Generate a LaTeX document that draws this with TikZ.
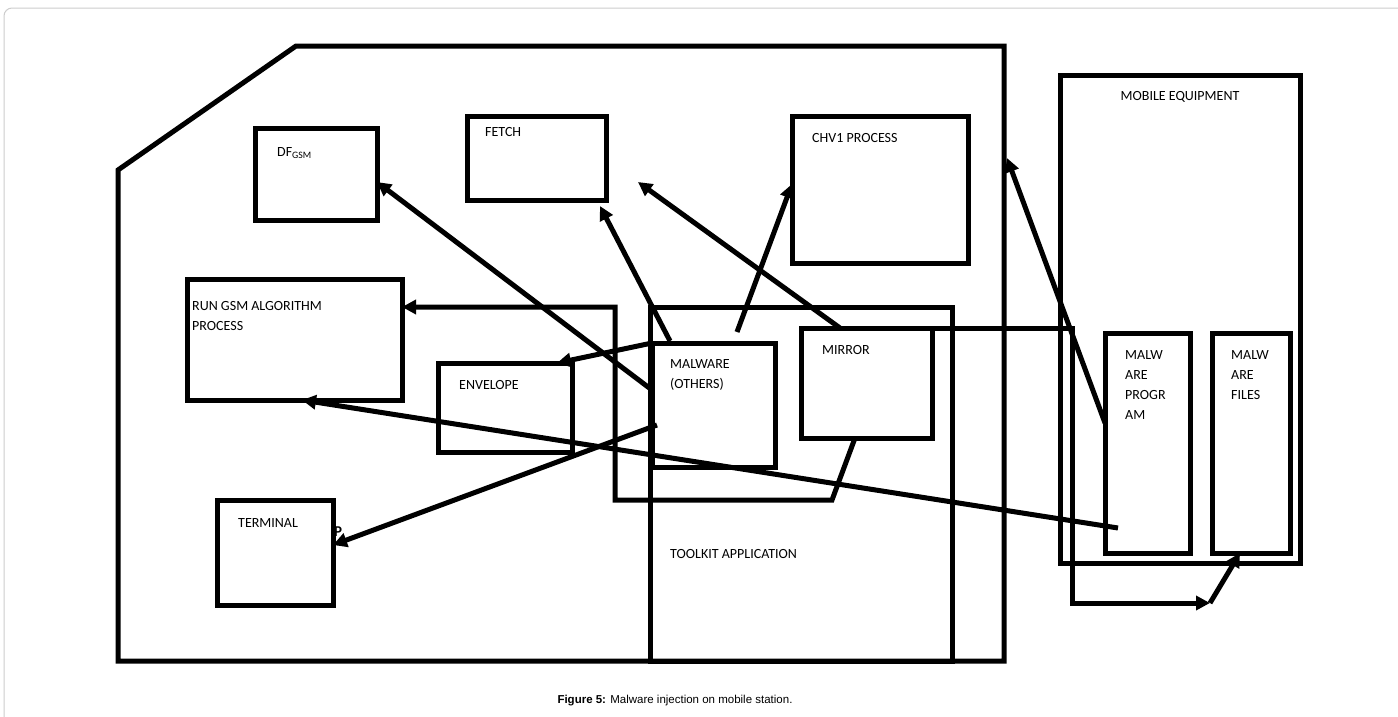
\documentclass[tikz,border=0pt]{standalone}
\usepackage{fontspec}
\setmainfont{Carlito}
\newfontfamily\capfont{Liberation Sans}
\usepackage{tikz}
\usetikzlibrary{positioning,arrows.meta,calc}

\begin{document}
\begin{tikzpicture}[x=1pt,y=-1pt,
    box/.style={draw, line width=5pt, anchor=north west, inner sep=0pt, outer sep=0pt},
    lbl/.style={font=\fontsize{14}{20}\selectfont, anchor=north west, inner sep=0pt, align=left},
    arr/.style={line width=5pt, -{Triangle[length=14pt,width=14pt]}},
    wire/.style={line width=5pt}]
    \useasboundingbox (0,0) rectangle (1398,716);
    \draw[gray!40, line width=1pt, rounded corners=8pt] (4,730) -- (4,8) -- (1410,8);

    % sim card outline
    \draw[wire] (296,46) -- (1004,46) -- (1004,661) -- (118,661) -- (118,170) -- cycle;

    \foreach \n/\x/\y/\w/\h in {dfgsm/255/128/122/92, fetch/467/116/139/84,
                                chv1/792/116/176/147, rungsm/187/279/215/121,
                                envelope/438/363/134/89, toolkit/650/307/302/354,
                                malware/652/343/123/124, mirror/801/328/131/110,
                                terminal/217/500/116/105, mobile/1060/75/240/488,
                                mprog/1105/333/85/220, mfiles/1212/333/78/220}
        \node[box, minimum width=\w pt, minimum height=\h pt] (\n) at (\x,\y) {};

    \node[lbl, font=\bfseries\fontsize{15}{20}\selectfont] (ptxt) at (334,527) {P};

    \node[lbl, below right=19pt and 22pt of dfgsm.north west] (dfgsmtxt) {DF\textsubscript{GSM}};
    \node[lbl, below right=11pt and 18pt of fetch.north west] (fetchtxt) {FETCH};
    \node[lbl, below right=17pt and 20pt of chv1.north west] (chv1txt) {CHV1 PROCESS};
    \node[lbl, below right=22pt and 5pt of rungsm.north west] (rungsmtxt) {RUN GSM ALGORITHM\\PROCESS};
    \node[lbl, below right=17pt and 21pt of envelope.north west] (envelopetxt) {ENVELOPE};
    \node[lbl, below right=16pt and 18pt of malware.north west] (malwaretxt) {MALWARE\\(OTHERS)};
    \node[lbl, below right=17pt and 21pt of mirror.north west] (mirrortxt) {MIRROR};
    \node[lbl, below right=18pt and 21pt of terminal.north west] (terminaltxt) {TERMINAL};
    \node[lbl, below right=242pt and 20pt of toolkit.north west] (toolkittxt) {TOOLKIT APPLICATION};
    \node[lbl, anchor=north, below=16pt of mobile.north] (mobiletxt) {MOBILE EQUIPMENT};
    \node[lbl, below right=17pt and 20pt of mprog.north west] (mprogtxt) {MALW\\ARE\\PROGR\\AM};
    \node[lbl, below right=17pt and 19pt of mfiles.north west] (mfilestxt) {MALW\\ARE\\FILES};

    % connectors
    \coordinate (fetchgap) at (638,182);
    \coordinate (chvstart) at (737,332);
    \coordinate (simedge) at (1007,158);
    \coordinate (bendA) at (832,500);
    \coordinate (bendB) at (615,500);
    \coordinate (mecorner) at (1072,328);
    \coordinate (turn) at (1210,603);

    \draw[arr] ([yshift=-47pt]malware.north west) -- ([yshift=-54pt]dfgsm.north east);
    \draw[arr] ([xshift=18pt,yshift=2pt]malware.north west) -- ([xshift=-6pt,yshift=-6pt]fetch.south east);
    \draw[arr] ([xshift=39pt]mirror.north west) -- (fetchgap);
    \draw[arr] (chvstart) -- ([yshift=-68pt]chv1.north west);
    \draw[arr] ([yshift=-90pt]mprog.north west) -- (simedge);
    \draw[arr] (malware.north west) -- ([xshift=-15pt]envelope.north east);
    \draw[arr] ([xshift=5pt,yshift=-82pt]malware.north west) -- ([yshift=-45pt]terminal.north east);
    \draw[arr] ([xshift=13pt,yshift=25pt]mprog.south west) -- ([xshift=115pt]rungsm.south west);
    \draw[arr] ([xshift=54pt]mirror.south west) -- (bendA) -- (bendB) |- ([yshift=-28pt]rungsm.north east);
    \draw[arr] (mirror.north east) -- (mecorner) |- (turn);
    \draw[arr] (turn) -- ([xshift=28pt]mfiles.south west);

    \node[font=\capfont\fontsize{11.5}{14}\selectfont] (caption) at (675,701)
        {\textbf{Figure 5:} Malware injection on mobile station.};
\end{tikzpicture}
\end{document}
